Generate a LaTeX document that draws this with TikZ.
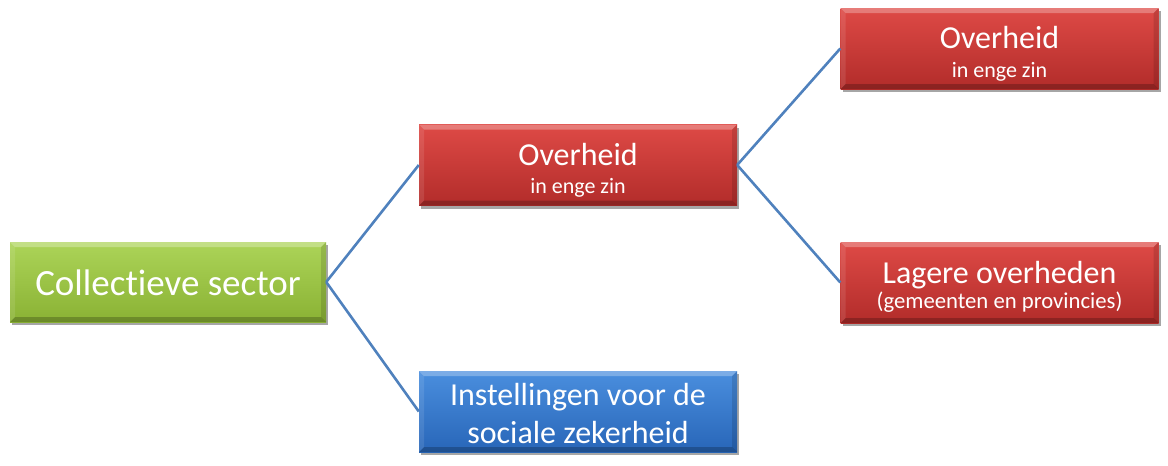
\documentclass[tikz,border=0pt]{standalone}
\usepackage{fontspec}
\setmainfont[Ligatures=NoCommon]{Carlito}
\usetikzlibrary{shadows}
\definecolor{gtop}{RGB}{172,212,88}
\definecolor{gbot}{RGB}{138,178,52}
\definecolor{rtop}{RGB}{222,74,70}
\definecolor{rbot}{RGB}{178,44,42}
\definecolor{btop}{RGB}{74,142,222}
\definecolor{bbot}{RGB}{40,102,184}
\definecolor{linkc}{RGB}{79,129,189}
\tikzset{
  bevel/.style={path picture={
    \fill[white,opacity=0.28] (path picture bounding box.north west) -- (path picture bounding box.north east) -- ([shift={(-5pt,-5pt)}]path picture bounding box.north east) -- ([shift={(5pt,-5pt)}]path picture bounding box.north west) -- cycle;
    \fill[black,opacity=0.22] (path picture bounding box.south west) -- (path picture bounding box.south east) -- ([shift={(-5pt,5pt)}]path picture bounding box.south east) -- ([shift={(5pt,5pt)}]path picture bounding box.south west) -- cycle;
    \fill[black,opacity=0.12] (path picture bounding box.north east) -- (path picture bounding box.south east) -- ([shift={(-5pt,5pt)}]path picture bounding box.south east) -- ([shift={(-5pt,-5pt)}]path picture bounding box.north east) -- cycle;
    \fill[white,opacity=0.10] (path picture bounding box.north west) -- (path picture bounding box.south west) -- ([shift={(5pt,5pt)}]path picture bounding box.south west) -- ([shift={(5pt,-5pt)}]path picture bounding box.north west) -- cycle;
  }},
  box/.style={rectangle, inner sep=0pt, bevel,
    drop shadow={shadow xshift=2pt, shadow yshift=-3pt, opacity=0.35, fill=black}},
  greenbox/.style={box, top color=gtop, bottom color=gbot, minimum width=316pt, minimum height=80pt},
  redbox/.style={box, top color=rtop, bottom color=rbot, minimum width=318pt, minimum height=81pt},
  bluebox/.style={box, top color=btop, bottom color=bbot, minimum width=318pt, minimum height=81pt},
  link/.style={draw=linkc, line width=2.6pt},
  txt/.style={text=white, inner sep=0pt, anchor=base},
  big/.style={txt, font=\fontsize{32}{38}\selectfont},
  subt/.style={txt, font=\fontsize{22}{26}\selectfont},
  subs/.style={txt, font=\fontsize{22.7}{27}\selectfont},
}
\begin{document}
\begin{tikzpicture}[x=1pt,y=-1pt]
\useasboundingbox (0,0) rectangle (1168,466);
\node[greenbox] (cs) at (168,282) {};
\node[redbox] (ov) at (578,165) {};
\node[redbox] (ovt) at (999.5,48.5) {};
\node[redbox] (lo) at (999.5,282.5) {};
\node[bluebox] (ins) at (578,411.5) {};
\draw[link] (cs.east) -- (ov.west);
\draw[link] (cs.east) -- (ins.west);
\draw[link] (ov.east) -- (ovt.west);
\draw[link] (ov.east) -- (lo.west);
\node[txt, font=\fontsize{37}{42}\selectfont] (cst) at ([yshift=-13pt]cs.center) {Collectieve sector};
\node[big] (ov1) at ([yshift=0pt]ov.center) {Overheid};
\node[subt] (ov2) at ([yshift=-28pt]ov.center) {in enge zin};
\node[big] (ovt1) at ([yshift=0pt]ovt.center) {Overheid};
\node[subt] (ovt2) at ([yshift=-28.5pt]ovt.center) {in enge zin};
\node[big] (lo1) at ([yshift=-0.5pt]lo.center) {Lagere overheden};
\node[subs] (lo2) at ([yshift=-26pt]lo.center) {(gemeenten en provincies)};
\node[big] (ins1) at ([yshift=6.5pt]ins.center) {Instellingen voor de};
\node[big] (ins2) at ([yshift=-31.5pt]ins.center) {sociale zekerheid};
\end{tikzpicture}
\end{document}
